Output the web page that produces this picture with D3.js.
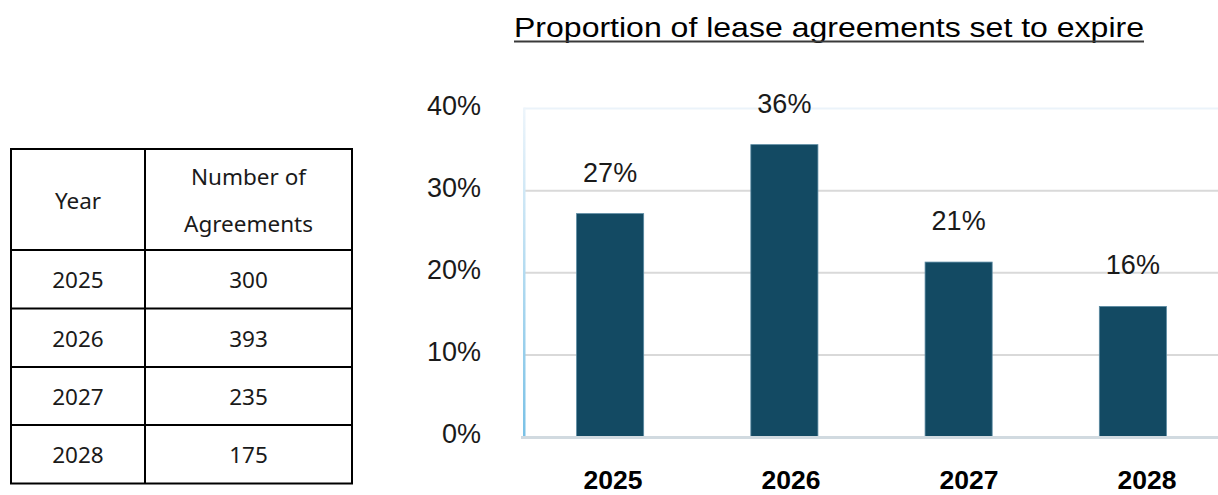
<!DOCTYPE html>
<html>
<head>
<meta charset="utf-8">
<script src="https://cdn.jsdelivr.net/npm/d3@7"></script>
<style>
  html, body { margin: 0; padding: 0; background: #fff; }
  svg { display: block; }
</style>
</head>
<body>
<svg id="chart" width="1218" height="495"></svg>
<script>
// ---- data ----
const years = ["2025", "2026", "2027", "2028"];
const agreements = [300, 393, 235, 175];
const proportions = [0.272, 0.356, 0.213, 0.159];
const yTicks = [0, 0.1, 0.2, 0.3, 0.4];
const tableHeader = ["Year", ["Number of", "Agreements"]];
const chartTitle = "Proportion of lease agreements set to expire";

const svg = d3.select("#chart");

// ---- table ----
const tbl = svg.append("g");
const colX = [11, 145, 352];
const rowY = [149, 250, 308.5, 367, 425, 483.5];
const tfont = "'Noto Sans', 'Open Sans', sans-serif";
const tcol = "#1a1a1a";
const tsize = 22.5;

tbl.append("rect").attr("x", colX[0]).attr("y", rowY[0])
  .attr("width", colX[2] - colX[0]).attr("height", rowY[5] - rowY[0])
  .attr("fill", "none").attr("stroke", "#000").attr("stroke-width", 2);
tbl.append("line").attr("x1", colX[1]).attr("x2", colX[1])
  .attr("y1", rowY[0]).attr("y2", rowY[5]).attr("stroke", "#000").attr("stroke-width", 2);
rowY.slice(1, 5).forEach(y => {
  tbl.append("line").attr("x1", colX[0]).attr("x2", colX[2])
    .attr("y1", y).attr("y2", y).attr("stroke", "#000").attr("stroke-width", 2);
});
const c1 = (colX[0] + colX[1]) / 2, c2 = (colX[1] + colX[2]) / 2;
tbl.append("text").attr("x", c1).attr("y", (rowY[0] + rowY[1]) / 2 + 9)
  .attr("text-anchor", "middle").attr("font-family", tfont).attr("font-size", tsize)
  .attr("fill", tcol).text(tableHeader[0]);
tableHeader[1].forEach((t, i) => {
  tbl.append("text").attr("x", c2).attr("y", 185 + i * 47)
    .attr("text-anchor", "middle").attr("font-family", tfont).attr("font-size", tsize)
    .attr("fill", tcol).text(t);
});
years.forEach((yr, i) => {
  const cy = (rowY[i + 1] + rowY[i + 2]) / 2 + 9;
  tbl.append("text").attr("x", c1).attr("y", cy).attr("text-anchor", "middle")
    .attr("font-family", tfont).attr("font-size", tsize)
    .attr("fill", tcol).text(yr);
  tbl.append("text").attr("x", c2).attr("y", cy).attr("text-anchor", "middle")
    .attr("font-family", tfont).attr("font-size", tsize)
    .attr("fill", tcol).text(agreements[i]);
});

// ---- chart ----
const cfont = "'Liberation Sans', Arial, sans-serif";
const x = d3.scaleBand().domain(years).range([523, 1220])
  .paddingInner(0.615).paddingOuter(0.3075);
const xLab = d3.scaleBand().domain(years).range([524, 1236]);
const y = d3.scaleLinear().domain([0, 0.4]).range([437, 108.5]);
const fmt = d3.format(".0%");

// title
svg.append("text").attr("x", 829).attr("y", 37).attr("text-anchor", "middle")
  .attr("font-family", cfont).attr("font-size", 27.5).attr("fill", "#000")
  .attr("textLength", 630).attr("lengthAdjust", "spacingAndGlyphs")
  .text(chartTitle);
svg.append("line").attr("x1", 514).attr("x2", 1144).attr("y1", 41.5).attr("y2", 41.5)
  .attr("stroke", "#3a3a3a").attr("stroke-width", 2);

// gridlines
const grid = svg.append("g");
grid.selectAll("line").data(yTicks.filter(d => d > 0)).join("line")
  .attr("x1", 524).attr("x2", 1218)
  .attr("y1", d => y(d)).attr("y2", d => y(d))
  .attr("stroke", d => d === 0.4 ? "#ebf3fa" : "#d9d9d9").attr("stroke-width", 2);

// left axis line with gradient
const defs = svg.append("defs");
const grad = defs.append("linearGradient").attr("id", "axg")
  .attr("x1", 0).attr("y1", 0).attr("x2", 0).attr("y2", 1);
grad.append("stop").attr("offset", "0%").attr("stop-color", "#eef5fb");
grad.append("stop").attr("offset", "100%").attr("stop-color", "#79c1e6");
svg.append("rect").attr("x", 523).attr("y", y(0.4) - 1).attr("width", 2.5)
  .attr("height", y(0) - y(0.4) + 1).attr("fill", "url(#axg)");

// y tick labels
const yAxis = d3.axisLeft(y).tickValues(yTicks).tickFormat(fmt).tickSize(0).tickPadding(0);
const ya = svg.append("g").attr("transform", "translate(481,0)").call(yAxis);
ya.select(".domain").remove();
ya.selectAll("text").attr("font-family", cfont).attr("font-size", 27)
  .attr("fill", "#1a1a1a").attr("dy", "0.22em");

// bars
svg.append("g").selectAll("rect").data(years).join("rect")
  .attr("x", d => x(d)).attr("width", x.bandwidth())
  .attr("y", (d, i) => y(proportions[i]))
  .attr("height", (d, i) => y(0) - y(proportions[i]))
  .attr("fill", "#134a63").attr("stroke", "#5a8aa2").attr("stroke-width", 0.8);

// bottom axis line
svg.append("line").attr("x1", 521).attr("x2", 1218).attr("y1", y(0) + 0.5).attr("y2", y(0) + 0.5)
  .attr("stroke", "#d1dae0").attr("stroke-width", 3);

// data labels
svg.append("g").selectAll("text").data(years).join("text")
  .attr("x", d => x(d) + x.bandwidth() / 2)
  .attr("y", (d, i) => y(proportions[i]) - 32)
  .attr("text-anchor", "middle").attr("font-family", cfont).attr("font-size", 27)
  .attr("fill", "#1a1a1a").text((d, i) => fmt(proportions[i]));

// x labels
const xAxis = d3.axisBottom(xLab).tickSize(0).tickPadding(0);
const xa = svg.append("g").attr("transform", "translate(0,489)").call(xAxis);
xa.select(".domain").remove();
xa.selectAll("text").attr("font-family", cfont).attr("font-size", 26.5)
  .attr("font-weight", "bold").attr("fill", "#000").attr("dy", 0);
</script>
</body>
</html>
